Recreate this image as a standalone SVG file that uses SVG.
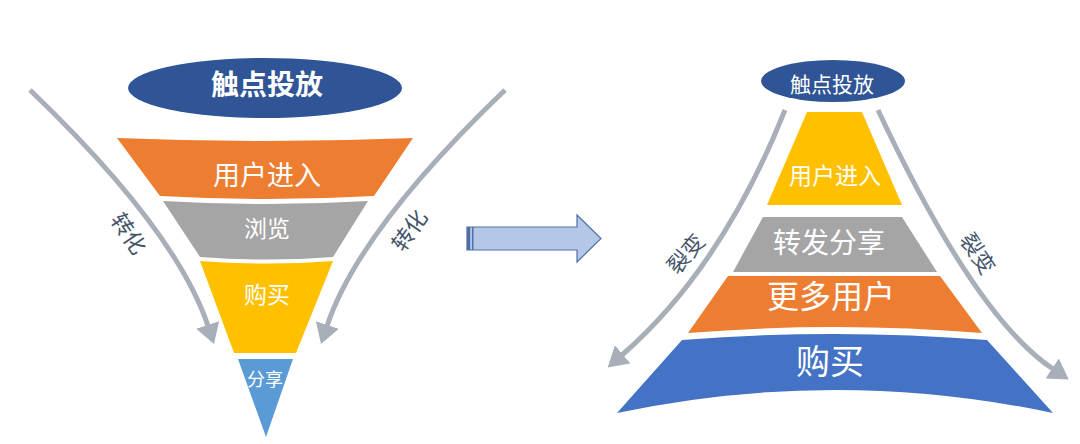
<svg xmlns="http://www.w3.org/2000/svg" width="1080" height="444" viewBox="0 0 1080 444">
<style>
.t{font-family:"Noto Sans CJK SC","Noto Sans",sans-serif;fill:#fff;text-anchor:middle}
.lbl{font-family:"Noto Sans CJK SC","Noto Sans",sans-serif;fill:#44546A;font-size:22px;text-anchor:middle}
.flow{fill:none;stroke:#A9AFB8;stroke-width:5;marker-end:url(#ah)}
</style>
<defs>
<marker id="ah" markerUnits="userSpaceOnUse" markerWidth="20" markerHeight="24" viewBox="0 0 20 24" refX="1" refY="12" orient="auto">
<path d="M0,0 L20,12 L0,24 Z" fill="#A9AFB8"/>
</marker>
</defs>
<rect width="1080" height="444" fill="#fff"/>

<g id="connectors">
<path class="flow" d="M30,90 Q176,230 208,326"/>
<path class="flow" d="M505,90 Q359,230 327,326"/>
<path class="flow" d="M785,110 Q722,268 622,355"/>
<path class="flow" d="M878,110 Q975,317 1053,369"/>
</g>

<g id="left-labels">
<text class="lbl" transform="translate(122,238) rotate(56)">转化</text>
<text class="lbl" transform="translate(416,235) rotate(-55)">转化</text>
</g>

<g id="funnel-touch">
<ellipse cx="265" cy="88" rx="137" ry="30" fill="#2F5597"/>
<text class="t" x="267" y="95" font-size="28" font-weight="bold">触点投放</text>
</g>
<g id="funnel-enter">
<path d="M117,138 Q265,144 413,138 L374,196 Q267,202 160,196 Z" fill="#ED7D31"/>
<text class="t" x="267" y="185" font-size="27">用户进入</text>
</g>
<g id="funnel-browse">
<path d="M163,201 Q266,207 368,201 L333,257 Q267,262 200,257 Z" fill="#A5A5A5"/>
<text class="t" x="267" y="237" font-size="23">浏览</text>
</g>
<g id="funnel-buy">
<path d="M200,261 Q267,266 333,261 L296,353 L234,353 Z" fill="#FFC000"/>
<text class="t" x="267" y="303" font-size="23">购买</text>
</g>
<g id="funnel-share">
<path d="M238,359 L293,359 L266,437 Z" fill="#5B9BD5"/>
<text class="t" x="265" y="386" font-size="18">分享</text>
</g>

<g id="center-arrow">
<polygon points="467,227 577,227 577,215 601,238.5 577,262 577,250 467,250" fill="#B4C7E7" stroke="#4F6FA8" stroke-width="1.2"/>
<rect x="467" y="227" width="3.2" height="23" fill="#4F6FA8"/>
<rect x="472" y="227" width="1.5" height="23" fill="#4F6FA8"/>
</g>

<g id="right-labels">
<text class="lbl" transform="translate(692,259) rotate(-50)">裂变</text>
<text class="lbl" transform="translate(971,258) rotate(56)">裂变</text>
</g>

<g id="pyr-touch">
<ellipse cx="833" cy="81" rx="72" ry="21" fill="#2F5597"/>
<text class="t" x="832" y="92" font-size="21">触点投放</text>
</g>
<g id="pyr-enter">
<path d="M807,112 L862,112 L902,205 L767,205 Z" fill="#FFC000"/>
<text class="t" x="835" y="184" font-size="23">用户进入</text>
</g>
<g id="pyr-share">
<path d="M763,217 L902,217 L937,272 L733,272 Z" fill="#A5A5A5"/>
<text class="t" x="829" y="253" font-size="28">转发分享</text>
</g>
<g id="pyr-more">
<path d="M728,276 L940,276 L982,333 Q835,321 688,333 Z" fill="#ED7D31"/>
<text class="t" x="831" y="308" font-size="32">更多用户</text>
</g>
<g id="pyr-buy">
<path d="M682,340 Q834,328 987,340 L1053,413 Q835,367 617,413 Z" fill="#4472C4"/>
<text class="t" x="830" y="374" font-size="34">购买</text>
</g>
</svg>
